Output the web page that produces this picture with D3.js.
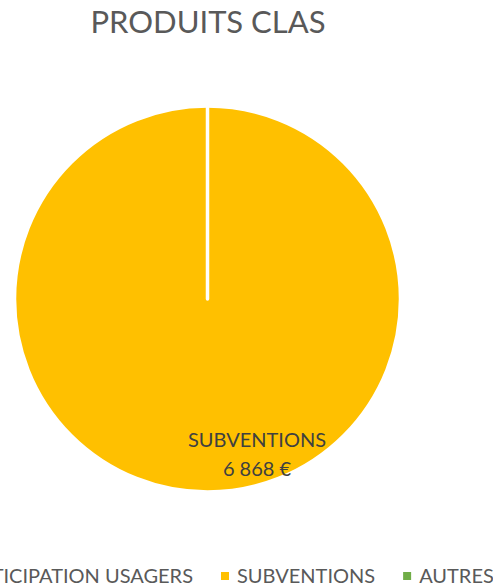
<!DOCTYPE html>
<html>
<head>
<meta charset="utf-8">
<script src="https://cdn.jsdelivr.net/npm/d3@7"></script>
<style>
  body { margin: 0; background: #fff; }
  svg { display: block; font-family: Lato, "Open Sans", sans-serif; }
</style>
</head>
<body>
<div class="main"></div>
<script>
// chart data
var categories = ["PARTICIPATION USAGERS", "SUBVENTIONS", "AUTRES"];
var values = [0, 6868, 0];
var colors = ["#4472C4", "#FFC000", "#70AD47"];
var title = "PRODUITS CLAS";

const width = 493, height = 588;
const cx = 207.5, cy = 299, radius = 193;

var svg = d3.select(".main").append("svg")
    .attr("width", width)
    .attr("height", height);

// title
svg.append("text")
    .attr("x", 208)
    .attr("y", 33)
    .attr("text-anchor", "middle")
    .text(title)
    .style("fill", "#595959")
    .style("font-size", "31px");

var data = categories.map(function(c, i) {
    return {name: c, value: values[i], color: colors[i]};
});

var pie = d3.pie()
    .sort(null)
    .value(function(d) { return d.value; });

var arc = d3.arc()
    .innerRadius(0)
    .outerRadius(radius);

var g = svg.append("g")
    .attr("transform", "translate(" + cx + "," + cy + ")");

var arcs = pie(data);

g.selectAll("path")
    .data(arcs)
    .enter()
    .append("path")
    .attr("d", arc)
    .style("fill", function(d) { return d.data.color; })
    .style("stroke", "#fff")
    .style("stroke-width", 3.5)
    .style("stroke-linejoin", "round");

// data labels (only non-zero slices)
var labelArc = d3.arc().innerRadius(radius * 0.8).outerRadius(radius * 0.8);
var fmt = function(v) { return d3.format(",")(v).replace(/,/g, " ") + " €"; };

var lab = g.selectAll(".lbl")
    .data(arcs.filter(function(d) { return d.data.value > 0; }))
    .enter()
    .append("text")
    .attr("class", "lbl")
    .attr("text-anchor", "middle")
    .style("fill", "#404040")
    .style("font-size", "20px")
    .attr("transform", function(d) {
        // Excel puts the single label at the lower right
        return "translate(" + (257 - cx) + "," + (447 - cy) + ")";
    });

lab.append("tspan")
    .attr("x", 0)
    .attr("y", 0)
    .text(function(d) { return d.data.name; });

lab.append("tspan")
    .attr("x", 0)
    .attr("y", 29)
    .text(function(d) { return fmt(d.data.value); });

// legend
var legend = svg.append("g").attr("class", "legend");
var items = legend.selectAll("g")
    .data(data)
    .enter()
    .append("g");

items.append("rect")
    .attr("width", 8)
    .attr("height", 8)
    .attr("y", -11)
    .style("fill", function(d) { return d.color; });

items.append("text")
    .attr("x", 16)
    .attr("y", 0)
    .text(function(d) { return d.name; })
    .style("fill", "#595959")
    .style("font-size", "20px");

// lay items out in a row, with the end of the first label at x = 193
var widths = [];
items.each(function() {
    widths.push(16 + d3.select(this).select("text").node().getComputedTextLength());
});
var gap = 28;
var xpos = 193 - widths[0];
items.attr("transform", function(d, i) {
    var x = xpos;
    xpos += widths[i] + gap;
    return "translate(" + x + ",583)";
});
</script>
</body>
</html>
